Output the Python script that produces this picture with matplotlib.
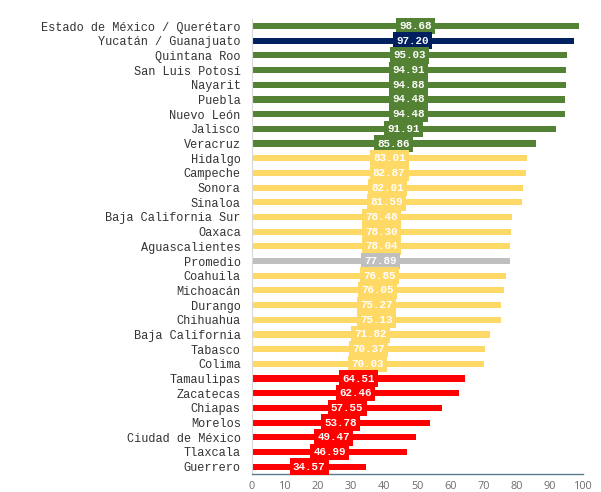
import matplotlib
matplotlib.use('Agg')
import matplotlib.pyplot as plt

# estados y valores (de arriba hacia abajo)
estados = ['Estado de México / Querétaro', 'Yucatán / Guanajuato', 'Quintana Roo',
           'San Luis Potosí', 'Nayarit', 'Puebla', 'Nuevo León', 'Jalisco', 'Veracruz',
           'Hidalgo', 'Campeche', 'Sonora', 'Sinaloa', 'Baja California Sur', 'Oaxaca',
           'Aguascalientes', 'Promedio', 'Coahuila', 'Michoacán', 'Durango', 'Chihuahua',
           'Baja California', 'Tabasco', 'Colima', 'Tamaulipas', 'Zacatecas', 'Chiapas',
           'Morelos', 'Ciudad de México', 'Tlaxcala', 'Guerrero']
valores = [98.68, 97.20, 95.03, 94.91, 94.88, 94.48, 94.48, 91.91, 85.86,
           83.01, 82.87, 82.01, 81.59, 78.48, 78.30, 78.04, 77.89, 76.85, 76.05,
           75.27, 75.13, 71.82, 70.37, 70.03, 64.51, 62.46, 57.55, 53.78, 49.47,
           46.99, 34.57]
grupos = ['verde', 'azul'] + ['verde'] * 7 + ['amarillo'] * 7 + ['gris'] + ['amarillo'] * 7 + ['rojo'] * 7
ticks_x = list(range(0, 101, 10))

colores = {'verde': '#548235', 'azul': '#002060', 'amarillo': '#FFD966',
           'gris': '#BFBFBF', 'rojo': '#FF0000'}

fig = plt.figure(figsize=(6.01, 4.92), dpi=100)
ax = fig.add_axes([0.419, 0.0366, 0.551, 0.9254])

y = list(range(len(estados)))
cols = [colores[g] for g in grupos]
ax.barh(y, valores, height=0.42, color=cols, zorder=2)

for yi, v, c in zip(y, valores, cols):
    ax.text(v / 2, yi, '%.2f' % v, ha='center', va='center', color='white',
            fontsize=7.8, fontweight='bold', family=['Liberation Mono', 'DejaVu Sans Mono'],
            bbox=dict(boxstyle='square,pad=0.3', fc=c, ec='none'), zorder=3)

ax.set_ylim(len(estados) - 0.5, -0.5)
ax.set_xlim(0, 100)
ax.set_yticks(y)
ax.set_yticklabels(estados, family=['Liberation Mono', 'DejaVu Sans Mono'], fontsize=8.6, color='#333333')
ax.set_xticks(ticks_x)
ax.set_xticklabels([str(t) for t in ticks_x], family=['Open Sans', 'DejaVu Sans'], fontsize=7.8, color='#6b6b6b')
ax.tick_params(axis='both', length=0)
ax.tick_params(axis='y', pad=8)
ax.tick_params(axis='x', pad=5)

for s in ['top', 'right']:
    ax.spines[s].set_visible(False)
ax.spines['left'].set_color('#D9D9D9')
ax.spines['left'].set_linewidth(0.8)
ax.spines['bottom'].set_color('#5B7B8E')
ax.spines['bottom'].set_linewidth(1.0)

fig.savefig('out.png', dpi=100)
